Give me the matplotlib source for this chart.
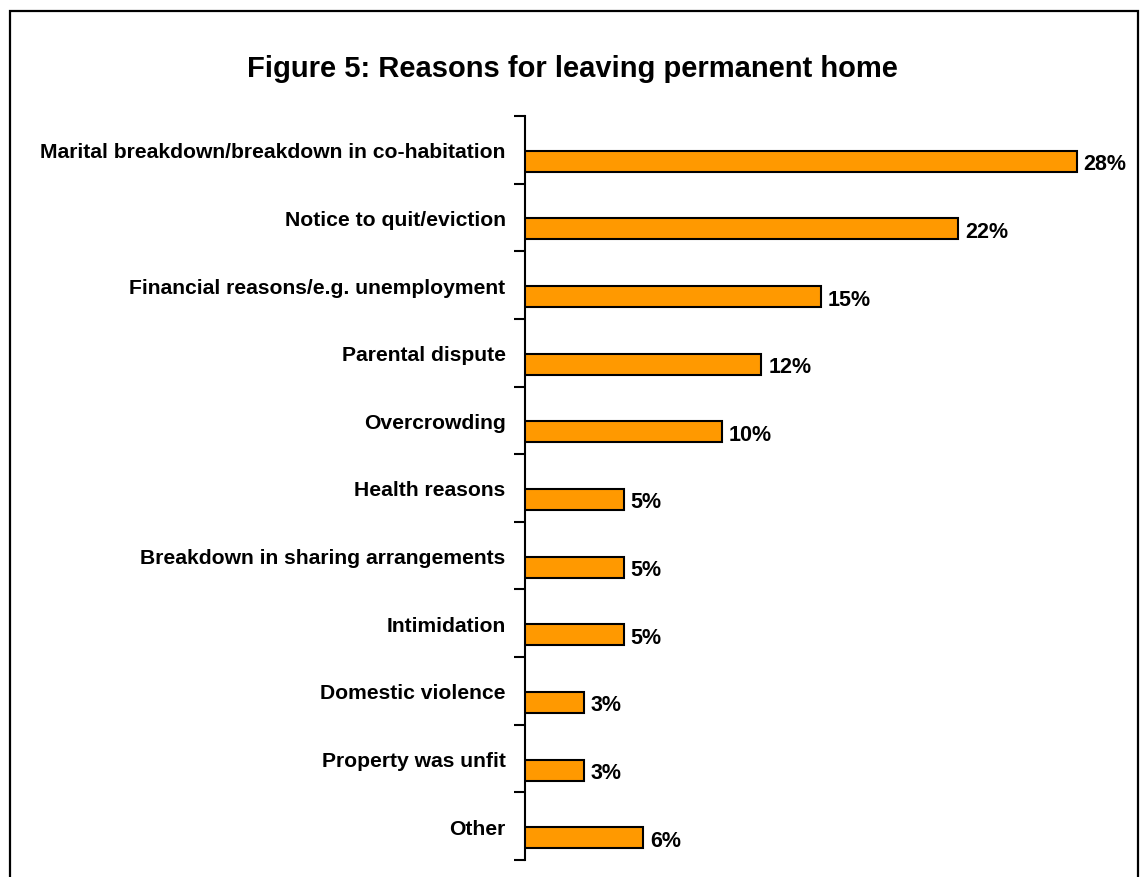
import matplotlib
matplotlib.use("Agg")
import matplotlib.pyplot as plt
from matplotlib.patches import Rectangle
from matplotlib.ticker import FixedLocator

plt.rcParams['font.family'] = ['Liberation Sans', 'DejaVu Sans']

categories = [
    "Marital breakdown/breakdown in co-habitation",
    "Notice to quit/eviction",
    "Financial reasons/e.g. unemployment",
    "Parental dispute",
    "Overcrowding",
    "Health reasons",
    "Breakdown in sharing arrangements",
    "Intimidation",
    "Domestic violence",
    "Property was unfit",
    "Other",
]
values = [28, 22, 15, 12, 10, 5, 5, 5, 3, 3, 6]
title = "Figure 5: Reasons for leaving permanent home"

W, H = 1143, 878
fig = plt.figure(figsize=(W / 100, H / 100), dpi=100)

# outer frame (bottom edge runs off the canvas)
fig.patches.append(Rectangle((10 / W, -0.05), 1128 / W, 1 - 12 / H + 0.05,
                             transform=fig.transFigure, fill=False,
                             edgecolor='black', linewidth=1.6, zorder=0))

ax_left, ax_right = 525 / W, 1116 / W
ax_top, ax_bottom = 1 - 117 / H, 1 - 861 / H
ax = fig.add_axes([ax_left, ax_bottom, ax_right - ax_left, ax_top - ax_bottom])

n = len(categories)
pos = list(range(n))
bar_offset = 0.17
bar_h = 0.31
ax.barh([p + bar_offset for p in pos], values, height=bar_h,
        color='#FF9900', edgecolor='black', linewidth=1.5, zorder=3)

for p, v in zip(pos, values):
    ax.text(v + 0.35, p + bar_offset, f"{v}%", va='center_baseline', ha='left',
            fontsize=15.5, fontweight='bold', color='black')

ax.set_xlim(0, 30)
ax.set_ylim(n - 0.5, -0.5)

ax.set_yticks(pos)
ax.set_yticklabels(categories, fontsize=15.2, fontweight='bold')
ax.tick_params(axis='y', which='major', length=0, pad=14)
ax.yaxis.set_minor_locator(FixedLocator([p - 0.5 for p in range(n + 1)]))
ax.tick_params(axis='y', which='minor', length=8, width=1.5, direction='out')
ax.set_xticks([])

for side in ('top', 'right', 'bottom'):
    ax.spines[side].set_visible(False)
ax.spines['left'].set_linewidth(1.5)

fig.text(572 / W, 1 - 77 / H, title, ha='center', va='baseline',
         fontsize=21, fontweight='bold')

fig.savefig('out.png', dpi=100)
